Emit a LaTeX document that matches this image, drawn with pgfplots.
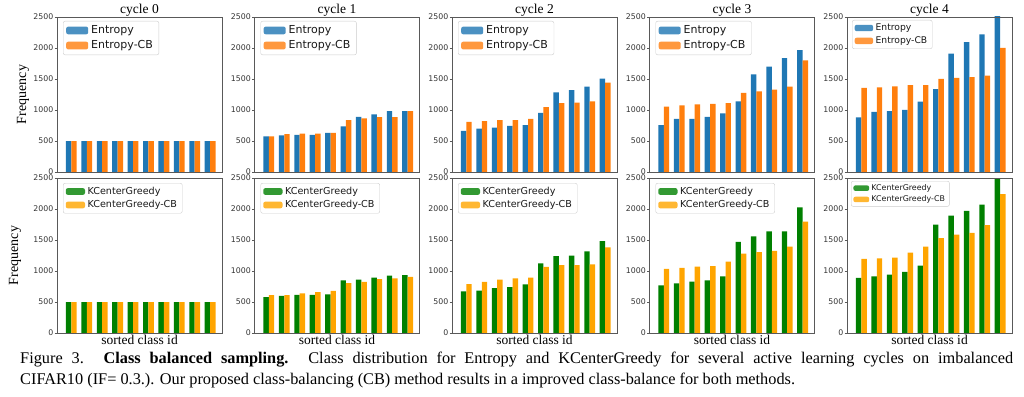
\documentclass[border=0pt]{standalone}
\usepackage{pgfplots}
\pgfplotsset{compat=1.18}
\usepackage{pgfplotstable}
\usepackage{fontspec}
\setmainfont{Liberation Serif}
\newfontfamily\dejavu{DejaVu Sans}

\definecolor{tabblue}{HTML}{1F77B4}
\definecolor{taborange}{HTML}{FF7F0E}
\definecolor{kgreen}{HTML}{008000}
\definecolor{korange}{HTML}{FFA500}

% ---------------- data ----------------
\pgfplotstableread{
x a b
0 500 500
1 500 500
2 500 500
3 500 500
4 500 500
5 500 500
6 500 500
7 500 500
8 500 500
9 500 500
}\Ezero
\pgfplotstableread{
x a b
0 575 575
1 590 610
2 600 620
3 600 620
4 630 630
5 735 835
6 890 865
7 930 885
8 980 885
9 980 980
}\Eone
\pgfplotstableread{
x a b
0 665 810
1 700 820
2 715 835
3 745 835
4 755 855
5 955 1045
6 1285 1110
7 1320 1120
8 1375 1140
9 1505 1440
}\Etwo
\pgfplotstableread{
x a b
0 755 1055
1 855 1075
2 855 1090
3 890 1100
4 945 1110
5 1140 1275
6 1575 1300
7 1700 1330
8 1835 1375
9 1965 1800
}\Ethree
\pgfplotstableread{
x a b
0 880 1355
1 970 1365
2 980 1380
3 1000 1400
4 1135 1400
5 1335 1500
6 1910 1520
7 2095 1530
8 2220 1555
9 2700 2000
}\Efour
\pgfplotstableread{
x a b
0 500 500
1 500 500
2 500 500
3 500 500
4 500 500
5 500 500
6 500 500
7 500 500
8 500 500
9 500 500
}\Kzero
\pgfplotstableread{
x a b
0 580 610
1 600 612
2 615 640
3 615 660
4 625 680
5 850 805
6 860 825
7 895 870
8 925 880
9 935 905
}\Kone
\pgfplotstableread{
x a b
0 670 790
1 685 825
2 725 860
3 740 880
4 785 895
5 1125 1065
6 1240 1095
7 1250 1095
8 1315 1105
9 1480 1380
}\Ktwo
\pgfplotstableread{
x a b
0 770 1035
1 800 1050
2 830 1070
3 850 1080
4 915 1150
5 1470 1280
6 1560 1305
7 1640 1325
8 1640 1395
9 2025 1795
}\Kthree
\pgfplotstableread{
x a b
0 890 1195
1 915 1205
2 940 1215
3 985 1295
4 1085 1395
5 1750 1530
6 1895 1585
7 1970 1615
8 2070 1740
9 2600 2240
}\Kfour

% ---------------- styles ----------------
\pgfplotsset{
  panel/.style={
    scale only axis, width=165pt, height=155pt, anchor=north west,
    xmin=-0.93, xmax=9.77, ymin=0, ymax=2500,
    ytick={0,500,1000,1500,2000,2500}, xtick=\empty,
    ytick pos=left, tick align=outside, major tick length=2.5pt,
    ytick style={draw=black!65, line width=0.6pt},
    axis line style={draw=black!65, line width=0.8pt},
    axis on top,
    yticklabel style={font=\dejavu\fontsize{7.8}{9}\selectfont, text=black!80, inner sep=1pt},
    /pgf/number format/assume math mode=true,
    /pgf/number format/1000 sep={},
    every axis title shift=0pt,
    title style={at={(0.5,1)}, anchor=base, yshift=3pt, font=\fontsize{13.5}{16}\selectfont},
    every axis y label/.style={at={(axis description cs:0,0.5)}, anchor=center, xshift=-34pt, rotate=90, font=\fontsize{14}{16}\selectfont},
    every axis x label/.style={at={(axis description cs:0.5,0)}, anchor=base, yshift=-11pt, font=\fontsize{13.5}{16}\selectfont},
    ybar, bar width=0.35,
    legend cell align=left,
    legend style={at={(0,1)}, anchor=north west, xshift=6pt, yshift=-4pt,
      draw=black!20, rounded corners=2pt, fill=white, fill opacity=0.8, text opacity=1, text=black!90},
  },
  limg/.style n args={3}{legend image code/.code={\fill[#1] (0pt,-#3) rectangle (#2,#3);}},
  legA/.style={legend style={font=\dejavu\fontsize{11}{13}\selectfont, row sep=4.5pt,
      inner xsep=3pt, inner ysep=4pt, nodes={inner xsep=3pt, inner ysep=0.5pt}}},
  legB/.style={legend style={font=\dejavu\fontsize{9.2}{11}\selectfont, row sep=3.8pt, xshift=-1pt, yshift=1pt,
      inner xsep=2.5pt, inner ysep=3.3pt, nodes={inner xsep=2.5pt, inner ysep=0.4pt}}},
  legC/.style={legend style={font=\dejavu\fontsize{9.6}{11}\selectfont, row sep=3.9pt, yshift=-1pt,
      inner xsep=2.6pt, inner ysep=3.5pt, nodes={inner xsep=2.6pt, inner ysep=0.4pt}}},
  legD/.style={legend style={font=\dejavu\fontsize{7.9}{9}\selectfont, row sep=3.2pt, xshift=-2pt, yshift=1pt,
      inner xsep=2.2pt, inner ysep=2.9pt, nodes={inner xsep=2.2pt, inner ysep=0.3pt}}},
}

\begin{document}
\begin{tikzpicture}[x=1pt,y=1pt]
% ===== row 1: Entropy =====
\begin{axis}[panel, at={(57pt,-17pt)}, title={cycle 0}, ylabel={Frequency}, legA, legend entries={Entropy,Entropy-CB}]
\addplot[fill=tabblue, draw=none, bar shift=-0.175, limg={tabblue}{22pt}{3.85pt}] table[x=x,y=a]{\Ezero};
\addplot[fill=taborange, draw=none, bar shift=0.175, limg={taborange}{22pt}{3.85pt}] table[x=x,y=b]{\Ezero};
\end{axis}
\begin{axis}[panel, at={(254.5pt,-17pt)}, title={cycle 1}, legA, legend entries={Entropy,Entropy-CB}]
\addplot[fill=tabblue, draw=none, bar shift=-0.175, limg={tabblue}{22pt}{3.85pt}] table[x=x,y=a]{\Eone};
\addplot[fill=taborange, draw=none, bar shift=0.175, limg={taborange}{22pt}{3.85pt}] table[x=x,y=b]{\Eone};
\end{axis}
\begin{axis}[panel, at={(452pt,-17pt)}, title={cycle 2}, legA, legend entries={Entropy,Entropy-CB}]
\addplot[fill=tabblue, draw=none, bar shift=-0.175, limg={tabblue}{22pt}{3.85pt}] table[x=x,y=a]{\Etwo};
\addplot[fill=taborange, draw=none, bar shift=0.175, limg={taborange}{22pt}{3.85pt}] table[x=x,y=b]{\Etwo};
\end{axis}
\begin{axis}[panel, at={(649.5pt,-17pt)}, title={cycle 3}, legA, legend entries={Entropy,Entropy-CB}]
\addplot[fill=tabblue, draw=none, bar shift=-0.175, limg={tabblue}{22pt}{3.85pt}] table[x=x,y=a]{\Ethree};
\addplot[fill=taborange, draw=none, bar shift=0.175, limg={taborange}{22pt}{3.85pt}] table[x=x,y=b]{\Ethree};
\end{axis}
\begin{axis}[panel, at={(847pt,-17pt)}, title={cycle 4}, legB, legend entries={Entropy,Entropy-CB}]
\addplot[fill=tabblue, draw=none, bar shift=-0.175, limg={tabblue}{18.4pt}{3.2pt}] table[x=x,y=a]{\Efour};
\addplot[fill=taborange, draw=none, bar shift=0.175, limg={taborange}{18.4pt}{3.2pt}] table[x=x,y=b]{\Efour};
\end{axis}
% ===== row 2: KCenterGreedy =====
\begin{axis}[panel, at={(57pt,-178pt)}, ylabel={Frequency}, ylabel style={yshift=8pt}, xlabel={sorted class id}, legC, legend entries={KCenterGreedy,KCenterGreedy-CB}]
\addplot[fill=kgreen, draw=none, bar shift=-0.175, limg={kgreen}{19.2pt}{3.35pt}] table[x=x,y=a]{\Kzero};
\addplot[fill=korange, draw=none, bar shift=0.175, limg={korange}{19.2pt}{3.35pt}] table[x=x,y=b]{\Kzero};
\end{axis}
\begin{axis}[panel, at={(254.5pt,-178pt)}, xlabel={sorted class id}, legC, legend entries={KCenterGreedy,KCenterGreedy-CB}]
\addplot[fill=kgreen, draw=none, bar shift=-0.175, limg={kgreen}{19.2pt}{3.35pt}] table[x=x,y=a]{\Kone};
\addplot[fill=korange, draw=none, bar shift=0.175, limg={korange}{19.2pt}{3.35pt}] table[x=x,y=b]{\Kone};
\end{axis}
\begin{axis}[panel, at={(452pt,-178pt)}, xlabel={sorted class id}, legC, legend entries={KCenterGreedy,KCenterGreedy-CB}]
\addplot[fill=kgreen, draw=none, bar shift=-0.175, limg={kgreen}{19.2pt}{3.35pt}] table[x=x,y=a]{\Ktwo};
\addplot[fill=korange, draw=none, bar shift=0.175, limg={korange}{19.2pt}{3.35pt}] table[x=x,y=b]{\Ktwo};
\end{axis}
\begin{axis}[panel, at={(649.5pt,-178pt)}, xlabel={sorted class id}, legC, legend entries={KCenterGreedy,KCenterGreedy-CB}]
\addplot[fill=kgreen, draw=none, bar shift=-0.175, limg={kgreen}{19.2pt}{3.35pt}] table[x=x,y=a]{\Kthree};
\addplot[fill=korange, draw=none, bar shift=0.175, limg={korange}{19.2pt}{3.35pt}] table[x=x,y=b]{\Kthree};
\end{axis}
\begin{axis}[panel, at={(847pt,-178pt)}, xlabel={sorted class id}, legD, legend entries={KCenterGreedy,KCenterGreedy-CB}]
\addplot[fill=kgreen, draw=none, bar shift=-0.175, limg={kgreen}{15.8pt}{2.75pt}] table[x=x,y=a]{\Kfour};
\addplot[fill=korange, draw=none, bar shift=0.175, limg={korange}{15.8pt}{2.75pt}] table[x=x,y=b]{\Kfour};
\end{axis}
% ===== caption =====
\node[anchor=base west, inner sep=0pt] at (20pt,-363.5pt) {\parbox[t]{993pt}{\fontsize{16.3}{21}\selectfont
Figure 3. \textbf{Class balanced sampling.} Class distribution for Entropy and KCenterGreedy for several active learning cycles on imbalanced\linebreak
CIFAR10 (IF= 0.3.). Our proposed class-balancing (CB) method results in a improved class-balance for both methods.}};
\pgfresetboundingbox
\path[use as bounding box] (0pt,0pt) rectangle (1024pt,-396pt);
\end{tikzpicture}
\end{document}
